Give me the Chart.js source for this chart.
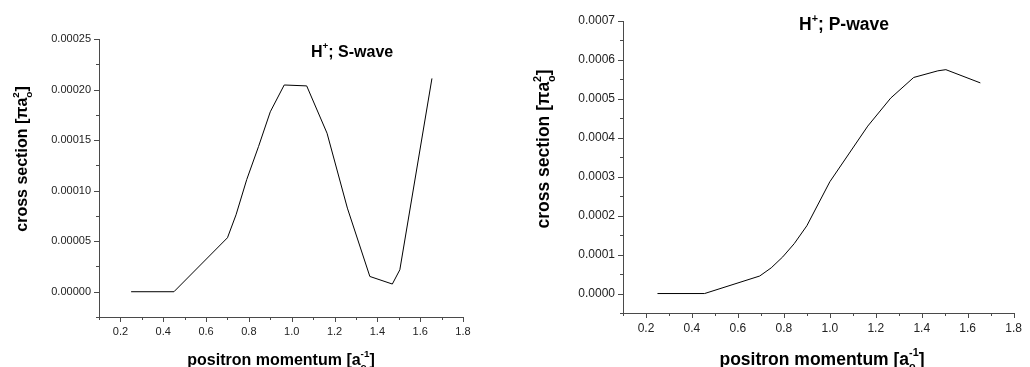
<!DOCTYPE html>
<html>
<head>
<meta charset="utf-8">
<script src="https://cdn.jsdelivr.net/npm/chart.js@4.4.1/dist/chart.umd.min.js"></script>
<style>
  body { margin: 0; background: #fff; }
  .box { position: absolute; top: 0; width: 515px; height: 367px; }
</style>
</head>
<body>
<div class="box" style="left:0"><canvas id="chartS" width="515" height="367"></canvas></div>
<div class="box" style="left:515px"><canvas id="chartP" width="515" height="367"></canvas></div>
<script>
// S-wave cross section (left panel)
var sMomentum = [0.25, 0.45, 0.70, 0.74, 0.79, 0.845, 0.90, 0.965, 1.07, 1.165, 1.26, 1.365, 1.47, 1.505, 1.655];
var sCross = [0, 0, 0.0000534, 0.0000761, 0.000111, 0.0001436, 0.000178, 0.0002045, 0.0002036, 0.0001568, 0.0000827, 0.0000151, 0.0000076, 0.0000217, 0.000211];

// P-wave cross section (right panel)
var pMomentum = [0.25, 0.455, 0.695, 0.745, 0.795, 0.845, 0.90, 1.00, 1.165, 1.265, 1.365, 1.47, 1.505, 1.655];
var pCross = [0, 0, 0.000045, 0.000066, 0.000094, 0.000128, 0.000174, 0.000287, 0.00043, 0.000502, 0.000555, 0.000572, 0.000575, 0.000541];

var FONT = '"Liberation Sans", Arial, sans-serif';
var axisColor = '#4a4a4a';

function toPoints(xs, ys) {
  var pts = [];
  for (var i = 0; i < xs.length; i++) pts.push({x: xs[i], y: ys[i]});
  return pts;
}

// draws text with stacked sub/superscripts, parts = [{t, sub, sup}]
function drawRich(ctx, parts, x, y, size, align, rotate) {
  var big = 'bold ' + size + 'px ' + FONT;
  var small = 'bold ' + (size * 0.62).toFixed(1) + 'px ' + FONT;
  var widths = [];
  var total = 0;
  parts.forEach(function(p) {
    ctx.font = big;
    var w = ctx.measureText(p.t).width;
    ctx.font = small;
    var ws = Math.max(p.sub ? ctx.measureText(p.sub).width : 0, p.sup ? ctx.measureText(p.sup).width : 0);
    widths.push([w, ws]);
    total += w + ws;
  });
  ctx.save();
  ctx.translate(x, y);
  if (rotate) ctx.rotate(-Math.PI / 2);
  ctx.fillStyle = '#000';
  ctx.textBaseline = 'alphabetic';
  ctx.textAlign = 'left';
  var cx = align === 'center' ? -total / 2 : 0;
  parts.forEach(function(p, i) {
    ctx.font = big;
    ctx.fillText(p.t, cx, 0);
    cx += widths[i][0];
    ctx.font = small;
    if (p.sub) ctx.fillText(p.sub, cx, size * 0.32);
    if (p.sup) ctx.fillText(p.sup, cx, -size * 0.47);
    cx += widths[i][1];
  });
  ctx.restore();
}

var tickMarks = {
  id: 'tickMarks',
  afterDraw: function(chart) {
    var ctx = chart.ctx;
    var xs = chart.scales.x, ys = chart.scales.y;
    ctx.save();
    ctx.strokeStyle = axisColor;
    ctx.lineWidth = 1;
    ctx.beginPath();
    xs.ticks.forEach(function(t) {
      var p = Math.round(xs.getPixelForValue(t.value)) + 0.5;
      var len = t.label ? 5 : 3;
      ctx.moveTo(p, xs.top);
      ctx.lineTo(p, xs.top + len);
    });
    ys.ticks.forEach(function(t) {
      var p = Math.round(ys.getPixelForValue(t.value)) + 0.5;
      var len = t.label ? 5 : 3;
      ctx.moveTo(ys.right, p);
      ctx.lineTo(ys.right - len, p);
    });
    ctx.stroke();
    ctx.restore();
  }
};

var richLabels = {
  id: 'richLabels',
  afterDraw: function(chart, args, opts) {
    var ctx = chart.ctx;
    drawRich(ctx, opts.title, opts.titlePos[0], opts.titlePos[1], opts.size, 'left', false);
    drawRich(ctx, [{t: 'cross section [\u03c0a', sub: 'o', sup: '2'}, {t: ']'}],
      opts.yTitlePos[0], opts.yTitlePos[1], opts.size, 'center', true);
    drawRich(ctx, [{t: 'positron momentum [a', sub: 'o', sup: '-1'}, {t: ']'}],
      opts.xTitlePos[0], opts.xTitlePos[1], opts.size, 'center', false);
  }
};

function makeChart(id, xs, ys, cfg) {
  var ctx = document.getElementById(id).getContext('2d');
  return new Chart(ctx, {
    type: 'line',
    data: {
      datasets: [{
        data: toPoints(xs, ys),
        borderColor: '#000',
        borderWidth: 1,
        pointRadius: 0,
        tension: 0,
        fill: false
      }]
    },
    options: {
      responsive: false,
      animation: false,
      devicePixelRatio: 1,
      layout: { padding: { left: 0, top: cfg.area.top, right: 515 - cfg.area.right, bottom: 0 } },
      plugins: {
        legend: { display: false },
        tooltip: { enabled: false },
        richLabels: {
          size: cfg.labelSize,
          title: cfg.title,
          titlePos: cfg.titlePos,
          yTitlePos: cfg.yTitlePos,
          xTitlePos: cfg.xTitlePos
        }
      },
      scales: {
        x: {
          type: 'linear',
          min: 0.1,
          max: 1.8,
          afterFit: function(scale) { scale.height = 367 - cfg.area.bottom; },
          border: { display: true, color: axisColor, width: 1 },
          grid: { display: true, drawOnChartArea: false, drawTicks: false },
          ticks: {
            stepSize: 0.1,
            autoSkip: false,
            maxRotation: 0,
            padding: 8,
            color: '#222',
            font: { family: FONT, size: cfg.tickSize },
            callback: function(v) {
              return Math.round(v / 0.1) % 2 === 0 ? v.toFixed(1) : '';
            }
          }
        },
        y: {
          type: 'linear',
          min: cfg.yMin,
          max: cfg.yMax,
          afterFit: function(scale) { scale.width = cfg.area.left; },
          border: { display: true, color: axisColor, width: 1 },
          grid: { display: true, drawOnChartArea: false, drawTicks: false },
          ticks: {
            stepSize: cfg.yStep,
            autoSkip: false,
            padding: 8,
            color: '#222',
            font: { family: FONT, size: cfg.tickSize },
            callback: function(v) {
              return Math.round(v / cfg.yStep) % 2 === 0 ? v.toFixed(cfg.yDigits) : '';
            }
          }
        }
      }
    },
    plugins: [tickMarks, richLabels]
  });
}

makeChart('chartS', sMomentum, sCross, {
  yMin: -0.000025, yMax: 0.00025, yStep: 0.000025, yDigits: 5,
  area: { left: 99, top: 39, right: 463, bottom: 317 },
  tickSize: 11, labelSize: 16,
  title: [{t: 'H', sup: '+'}, {t: '; S-wave'}],
  titlePos: [311, 56.5],
  yTitlePos: [27, 159],
  xTitlePos: [281, 364.5]
});

makeChart('chartP', pMomentum, pCross, {
  yMin: -0.00005, yMax: 0.0007, yStep: 0.00005, yDigits: 4,
  area: { left: 108, top: 21, right: 506, bottom: 313 },
  tickSize: 12, labelSize: 17.5,
  title: [{t: 'H', sup: '+'}, {t: '; P-wave'}],
  titlePos: [284, 30],
  yTitlePos: [34, 149],
  xTitlePos: [307, 364.5]
});
</script>
</body>
</html>
